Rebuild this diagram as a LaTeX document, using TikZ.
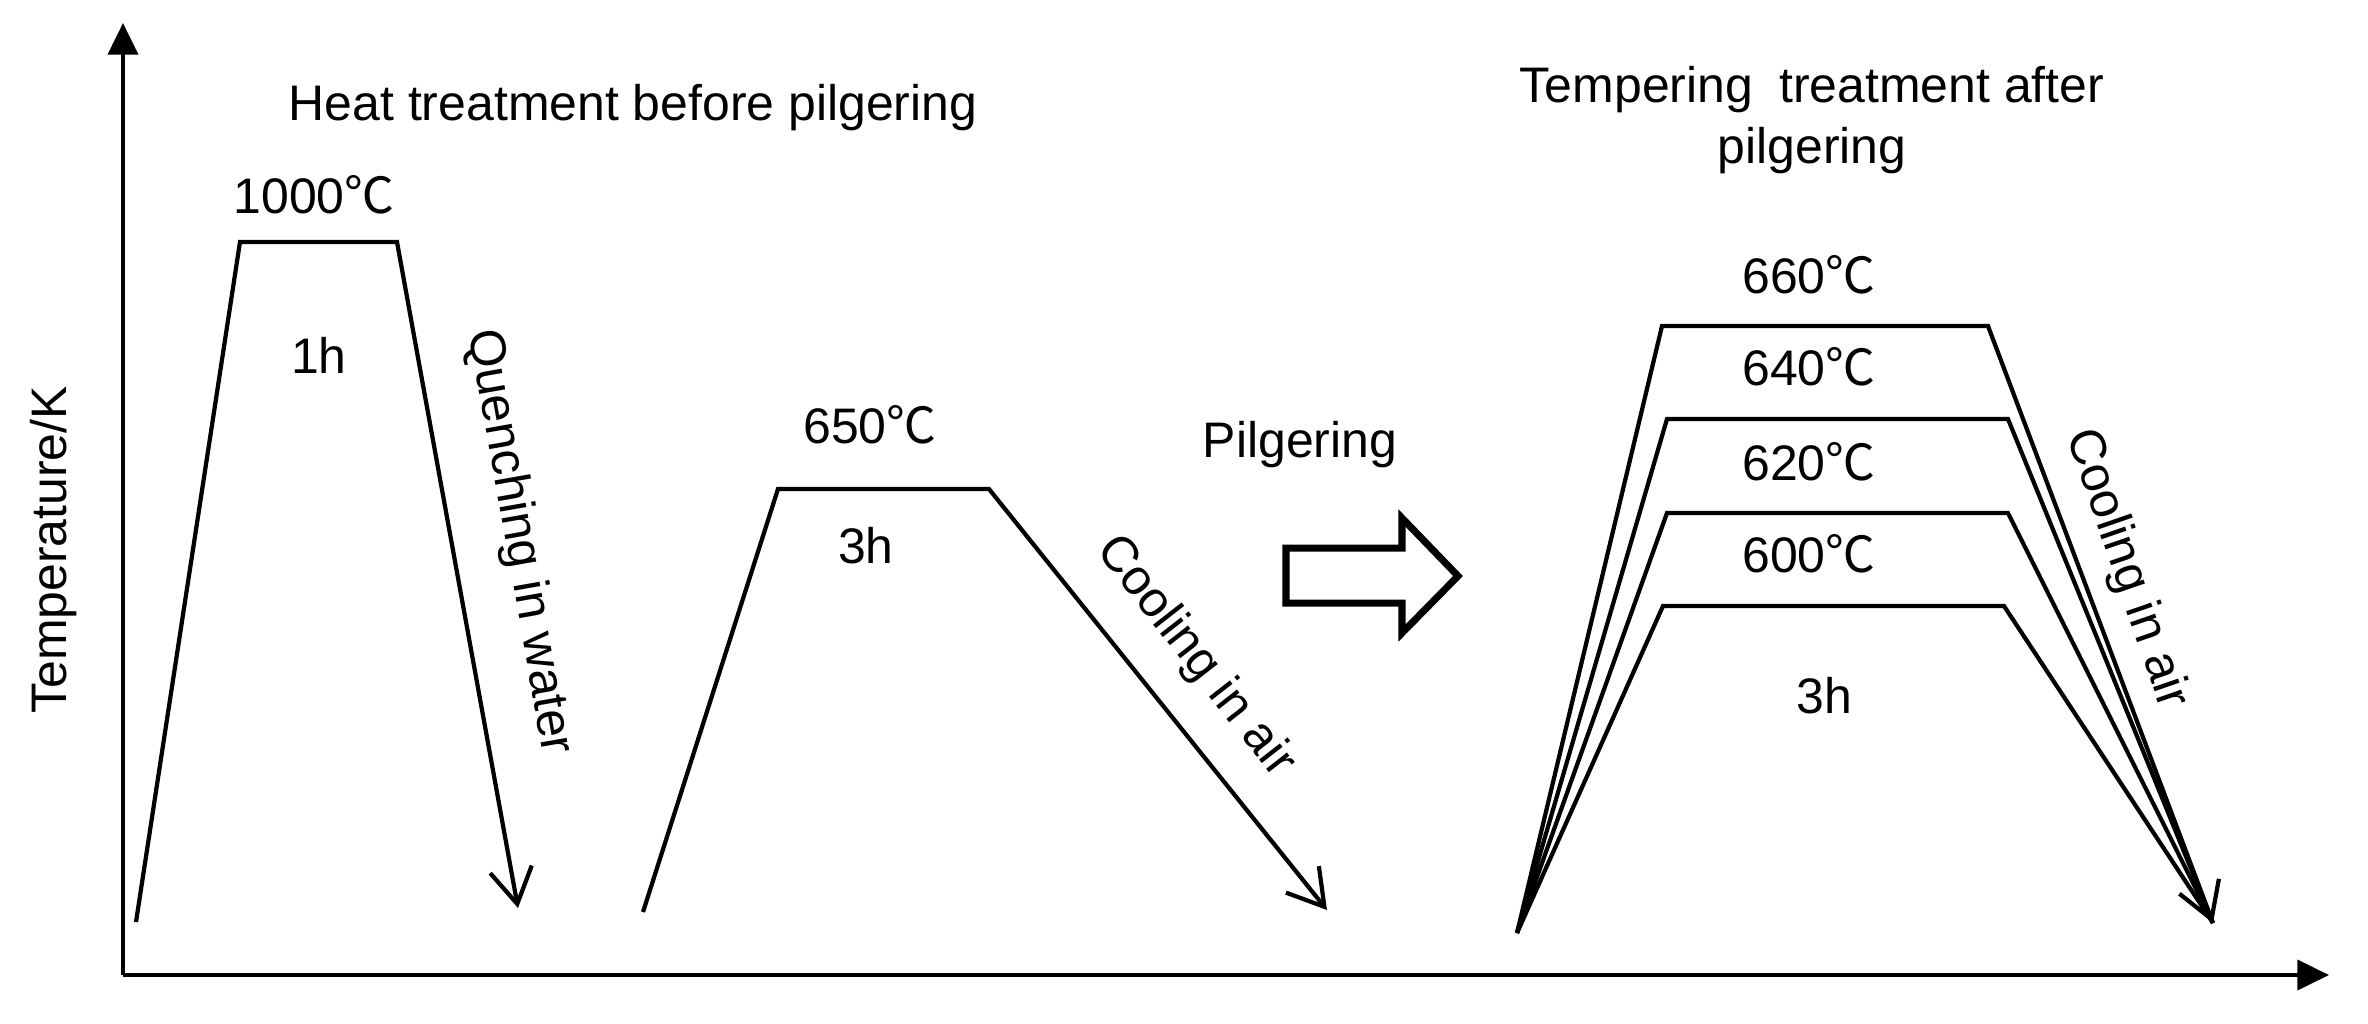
\documentclass[tikz,border=0pt]{standalone}
\usepackage{fontspec}
\setmainfont{Liberation Sans}
\newfontfamily\cjk{Noto Sans CJK SC}
\usetikzlibrary{arrows.meta}
\newcommand{\degC}{{\cjk ℃}}
\begin{document}
\begin{tikzpicture}[x=0.01cm,y=-0.01cm,
  curve/.style={line width=1.2pt, line join=miter},
  cool/.style={curve, -{Straight Barb[length=10pt,width=12pt,line width=1.2pt]}},
  axis/.style={line width=1.2pt, -{Triangle[length=9pt,width=8.5pt]}},
  lbl/.style={inner sep=0pt, font=\fontsize{14.2}{17}\selectfont},
  blockarrow/.style={line width=2pt, line join=miter}
  ]
\useasboundingbox (0,0) rectangle (2368,1023);

% axes
\coordinate (O) at (123,975);
\coordinate (ytip) at (123,23);
\coordinate (xtip) at (2329,975);
\draw[axis] (O) -- (ytip);
\draw[axis] (O) -- (xtip);
\node[lbl, rotate=90] (ylab) at (54,550) {Temperature/K};

% heat treatment before pilgering
\node[lbl, anchor=base] (title1) at (633,120) {Heat treatment before pilgering};

\coordinate (a0) at (136,922);
\coordinate (a1) at (240,242);
\coordinate (a2) at (397,242);
\coordinate (a3) at (518,908);
\draw[cool] (a0) -- (a1) -- (a2) -- (a3);
\node[lbl, anchor=base] (T1000) at (314,213) {1000\degC};
\node[lbl, anchor=base] (h1) at (319,373) {1h};
\node[lbl, rotate=-80] (qw) at (519,542) {Quenching in water};

\coordinate (b0) at (643,912);
\coordinate (b1) at (778,489);
\coordinate (b2) at (989,489);
\coordinate (b3) at (1327,910);
\draw[cool] (b0) -- (b1) -- (b2) -- (b3);
\node[lbl, anchor=base] (T650) at (870,443) {650\degC};
\node[lbl, anchor=base] (h3a) at (866,563) {3h};
\node[lbl, rotate=-52] (ca1) at (1195,657) {Cooling in air};

% pilgering
\node[lbl, anchor=base] (pilg) at (1300,457) {Pilgering};
\coordinate (p1) at (1286,548);
\coordinate (p2) at (1402,548);
\coordinate (p3) at (1402,518);
\coordinate (p4) at (1458,576);
\coordinate (p5) at (1402,633);
\coordinate (p6) at (1402,603);
\coordinate (p7) at (1286,603);
\draw[blockarrow] (p1) -- (p2) -- (p3) -- (p4) -- (p5) -- (p6) -- (p7) -- cycle;

% tempering treatment after pilgering
\node[lbl, anchor=base] (title2a) at (1812,102) {Tempering\hspace{0.25em} treatment after};
\node[lbl, anchor=base] (title2b) at (1812,163) {pilgering};

\coordinate (s) at (1517,933);
\coordinate (e) at (2213,923);
\coordinate (c1l) at (1662,326); \coordinate (c1r) at (1988,326);
\coordinate (c2l) at (1667,419); \coordinate (c2r) at (2008,419);
\coordinate (c3l) at (1667,513); \coordinate (c3r) at (2008,513);
\coordinate (c4l) at (1663,606); \coordinate (c4r) at (2004,606);
\draw[curve] (s) -- (c4l) -- (c4r) -- (e);
\draw[curve] (s) -- (c3l) -- (c3r) -- (e);
\draw[curve] (s) -- (c2l) -- (c2r) -- (e);
\draw[cool] (s) -- (c1l) -- (c1r) -- (e);
\node[lbl, anchor=base] (T660) at (1809,293) {660\degC};
\node[lbl, anchor=base] (T640) at (1809,385) {640\degC};
\node[lbl, anchor=base] (T620) at (1809,480) {620\degC};
\node[lbl, anchor=base] (T600) at (1809,572) {600\degC};
\node[lbl, anchor=base] (h3b) at (1824,713) {3h};
\node[lbl, rotate=-71] (ca2) at (2126,569) {Cooling in air};
\end{tikzpicture}
\end{document}
